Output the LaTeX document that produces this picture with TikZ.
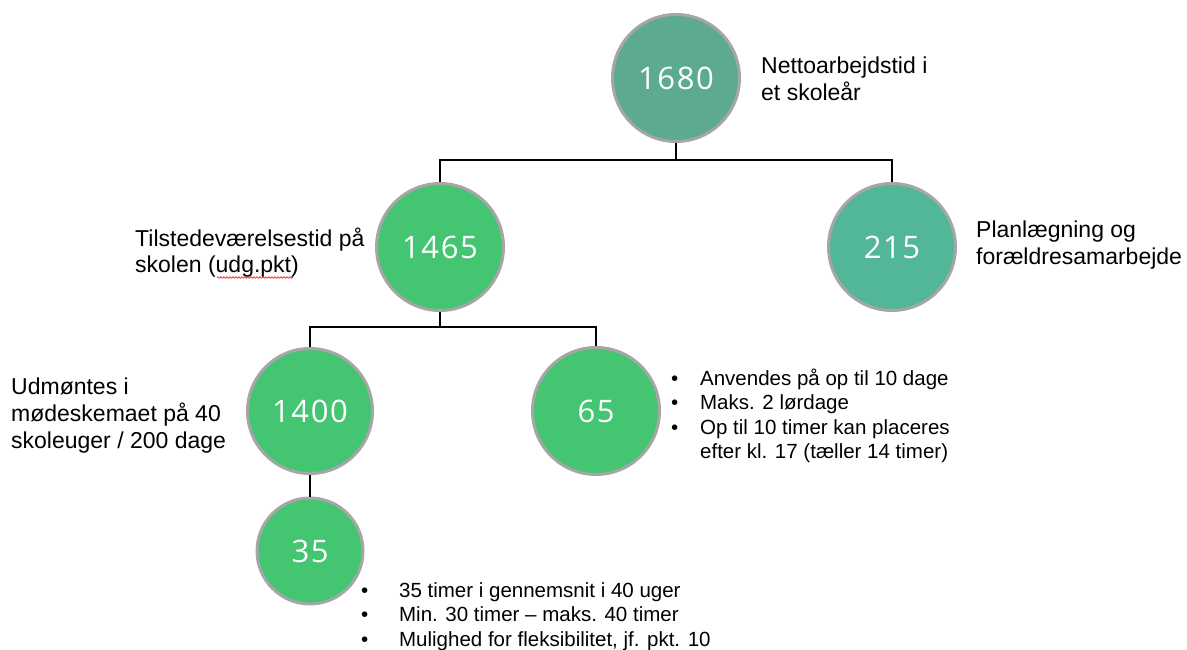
\documentclass[tikz,border=0pt]{standalone}
\usepackage{fontspec}
\setmainfont{Liberation Sans}
\newfontfamily\numfont[LetterSpace=5]{Open Sans}
\usetikzlibrary{decorations.pathmorphing}

\definecolor{tealdark}{HTML}{5BAA91}
\definecolor{tealmid}{HTML}{52B699}
\definecolor{greenmid}{HTML}{44C572}
\definecolor{ringgray}{HTML}{A6A6A6}

\tikzset{
  bubble/.style={circle, draw=ringgray, line width=3pt, text=white, inner sep=0pt,
    font=\numfont\fontsize{31}{36}\selectfont},
  infotext/.style={anchor=base west, inner sep=0pt, font=\fontsize{23}{27}\selectfont},
  pointtext/.style={anchor=base west, inner sep=0pt, font=\fontsize{20.5}{24.5}\selectfont},
  treeline/.style={line width=2pt, black}
}

\begin{document}
\begin{tikzpicture}[x=1pt, y=-1pt]
    \useasboundingbox (0,0) rectangle (1187,650);

    % Cirkler med timetal
    \foreach \name/\x/\y/\d/\col/\val in {n1680/676/78/127/tealdark/1680,
        n1465/440/247/127/greenmid/1465, n215/892/247/127/tealmid/215,
        n1400/310/411/125/greenmid/1400, n65/596/411/127/greenmid/65,
        n35/310/551/106/greenmid/35} {
        \node[bubble, fill=\col, minimum size=\d pt] (\name) at (\x,\y) {\val};
    }

    % Forbindelser mellem niveauerne
    \draw[treeline] (n1680.south) -- ++(0,17) coordinate (topbar);
    \draw[treeline] (n1465.north) |- (topbar) -| (n215.north);
    \draw[treeline] (n1465.south) -- ++(0,15) coordinate (midbar);
    \draw[treeline] (n1400.north) |- (midbar) -| (n65.north);
    \draw[treeline] (n1400.south) -- (n35.north);

    % Forklarende tekster
    \node[infotext] (netto) at (761,74)
        {\begin{tabular}[t]{@{}l@{}}Nettoarbejdstid i\\et skoleår\end{tabular}};
    \node[infotext] (tilstede) at (135,246)
        {\begin{tabular}[t]{@{}l@{}}Tilstedeværelsestid på\\skolen (udg.pkt)\end{tabular}};
    \node[infotext] (planl) at (976,237)
        {\begin{tabular}[t]{@{}l@{}}Planlægning og\\forældresamarbejde\end{tabular}};
    \node[infotext] (udmoent) at (11,394)
        {\begin{tabular}[t]{@{}l@{}}Udmøntes i\\mødeskemaet på 40\\skoleuger / 200 dage\end{tabular}};

    % Stavekontrol under udg.pkt
    \draw[red, line width=0.6pt, decorate, decoration={snake, amplitude=0.8pt, segment length=3pt}]
        (217,277.5) -- (293,277.5);

    % Punktlister
    \node[pointtext] (dage) at (671,385)
        {\begin{tabular}[t]{@{}l@{\hspace{21.8pt}}l@{}}
        •&Anvendes på op til 10 dage\\
        •&Maks. 2 lørdage\\
        •&Op til 10 timer kan placeres\\
        &efter kl. 17 (tæller 14 timer)
        \end{tabular}};
    \node[pointtext] (uger) at (361,597)
        {\begin{tabular}[t]{@{}l@{\hspace{30.8pt}}l@{}}
        •&35 timer i gennemsnit i 40 uger\\
        •&Min. 30 timer – maks. 40 timer\\
        •&Mulighed for fleksibilitet, jf. pkt. 10
        \end{tabular}};
\end{tikzpicture}
\end{document}
